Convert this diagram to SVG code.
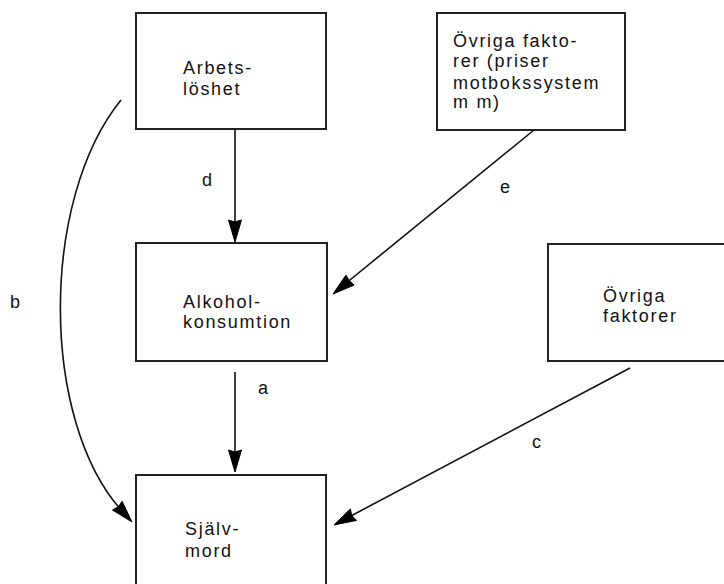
<svg xmlns="http://www.w3.org/2000/svg" width="724" height="584" viewBox="0 0 724 584">
<style>
.box{fill:#fff;stroke:#222;stroke-width:2}
.t{font-family:"Liberation Sans",Arial,sans-serif;font-size:18px;letter-spacing:1.7px;fill:#111}
.c{fill:none;stroke:#111;stroke-width:1.6}
.hd{fill:#000;stroke:#000;stroke-width:1}
</style>
<rect width="724" height="584" fill="#fff"/>
<g id="arbetsloshet">
<rect class="box" x="136" y="13" width="190" height="116"/>
<text class="t" x="183" y="74">Arbets-</text>
<text class="t" x="183" y="95">löshet</text>
</g>
<g id="ovriga-faktorer-priser">
<rect class="box" x="437" y="13" width="188" height="117"/>
<text class="t" x="453" y="47">Övriga fakto-</text>
<text class="t" x="453" y="67">rer (priser</text>
<text class="t" x="453" y="89">motbokssystem</text>
<text class="t" x="453" y="108">m m)</text>
</g>
<g id="alkoholkonsumtion">
<rect class="box" x="136" y="243" width="191" height="118"/>
<text class="t" x="183" y="308">Alkohol-</text>
<text class="t" x="183" y="328">konsumtion</text>
</g>
<g id="ovriga-faktorer">
<rect class="box" x="548" y="244" width="180" height="117"/>
<text class="t" x="603" y="302">Övriga</text>
<text class="t" x="603" y="322">faktorer</text>
</g>
<g id="sjalvmord">
<rect class="box" x="136" y="475" width="190" height="120"/>
<text class="t" x="185" y="535">Själv-</text>
<text class="t" x="185" y="557">mord</text>
</g>
<g id="connectors">
<line class="c" x1="235" y1="130" x2="235" y2="230"/>
<polygon class="hd" points="235,242 228.5,220 235,222 241.5,220"/>
<line class="c" x1="534" y1="130" x2="345" y2="284"/>
<polygon class="hd" points="333,294 354.1,285.1 349.3,280.6 345.9,275.1"/>
<line class="c" x1="235" y1="372" x2="235" y2="460"/>
<polygon class="hd" points="235,472 228.5,450 235,452 241.5,450"/>
<line class="c" x1="630" y1="368" x2="348" y2="517.5"/>
<polygon class="hd" points="334,525 356.5,520.4 351.7,515.6 350.4,508.9"/>
<path class="c" d="M121,100 C40,200 40,420 122,511"/>
<polygon class="hd" points="132,522 122.1,501.3 118.6,506.5 112.5,510"/>
<text class="t" x="202" y="186">d</text>
<text class="t" x="500" y="193">e</text>
<text class="t" x="258" y="394">a</text>
<text class="t" x="532" y="448">c</text>
<text class="t" x="10" y="308">b</text>
</g>
</svg>
